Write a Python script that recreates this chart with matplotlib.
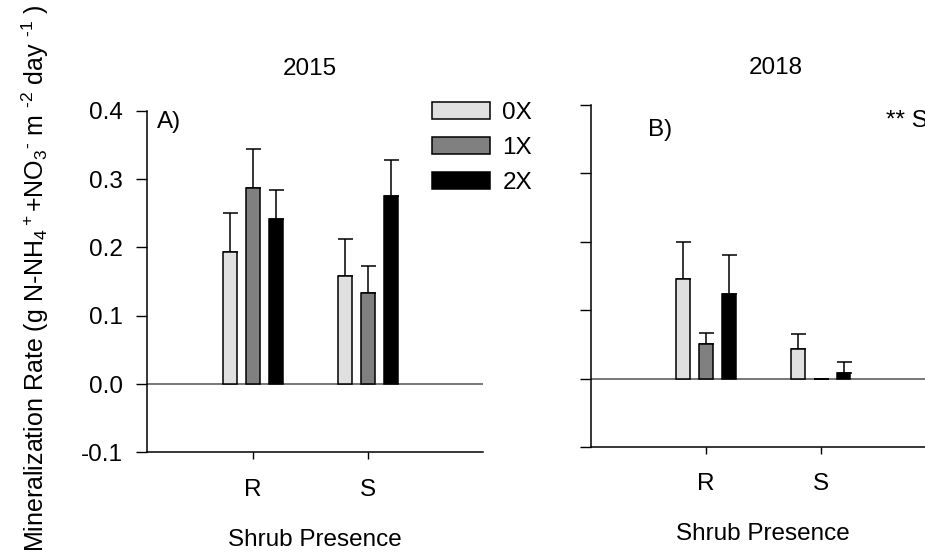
import numpy as np
import matplotlib.pyplot as plt

plt.rcParams["font.family"] = ["Liberation Sans", "DejaVu Sans"]
plt.rcParams["mathtext.fontset"] = "custom"
plt.rcParams["mathtext.rm"] = "Liberation Sans"
plt.rcParams["mathtext.it"] = "Liberation Sans:italic"
plt.rcParams["font.size"] = 17.5

shrub = ["R", "S"]
levels = ["0X", "1X", "2X"]

# mean and upper SE for each year, rows = level, cols = shrub presence
mean_2015 = [[0.194, 0.158], [0.287, 0.133], [0.242, 0.276]]
se_2015 = [[0.056, 0.055], [0.057, 0.040], [0.042, 0.052]]
mean_2018 = [[0.146, 0.043], [0.051, -0.001], [0.124, 0.008]]
se_2018 = [[0.054, 0.022], [0.016, 0.0], [0.056, 0.017]]

fills = ["#e0e0e0", "#808080", "#000000"]
width = 0.12
offset = 0.2

fig = plt.figure(figsize=(9.25, 5.55), dpi=100)
ax_a = fig.add_axes([147 / 925, 1 - 452.4 / 555, 336 / 925, 341.6 / 555])
ax_b = fig.add_axes([591 / 925, 1 - 447 / 555, 344.4 / 925, 342 / 555])


def draw_panel(ax, means, ses, xlim):
    x = np.arange(1, len(shrub) + 1)
    for i in range(len(levels)):
        ax.bar(x + (i - 1) * offset, means[i], width=width, color=fills[i],
               edgecolor="black", linewidth=1.1, label=levels[i], zorder=3)
        ax.errorbar(x + (i - 1) * offset, means[i],
                    yerr=[np.zeros(len(shrub)), ses[i]], fmt="none",
                    ecolor="black", elinewidth=1.1, capsize=5.4,
                    capthick=1.1, zorder=2)
    ax.axhline(0, color="#606060", linewidth=1.2, zorder=1)
    ax.set_xlim(*xlim)
    ax.set_ylim(-0.1, 0.4)
    ax.set_xticks(x)
    ax.set_xticklabels(shrub)
    ax.set_yticks(np.arange(-0.1, 0.41, 0.1))
    ax.spines["top"].set_visible(False)
    ax.spines["right"].set_visible(False)
    ax.spines["left"].set_linewidth(1.1)
    ax.spines["bottom"].set_linewidth(1.1)
    ax.tick_params(axis="x", direction="out", length=5, width=1, pad=14)
    ax.tick_params(axis="y", direction="out", length=7.6, width=1, pad=10)


draw_panel(ax_a, mean_2015, se_2015, (0.076, 3.0))
draw_panel(ax_b, mean_2018, se_2018, (0.0, 3.0))

ax_a.set_yticklabels([f"{v:.1f}" for v in np.arange(-0.1, 0.41, 0.1)])
ax_b.set_yticklabels([])

ax_a.set_xlabel("Shrub Presence", labelpad=20)
ax_b.set_xlabel("Shrub Presence", labelpad=20)

ax_a.text(0.163, 0.383, "A)", va="center", ha="left")
ax_b.text(0.50, 0.364, "B)", va="center", ha="left")
ax_b.text(2.57, 0.376, "** S", va="center", ha="left")

fig.text(310 / 925, 1 - 69 / 555, "2015", ha="center", va="center")
fig.text(776 / 925, 1 - 68 / 555, "2018", ha="center", va="center")

fig.text(35 / 925, 1 - 278 / 555,
         r"Mineralization Rate (g N-NH$_4$$^+$+NO$_3$$^{\text{-}}$ m $^{\text{-2}}$ day $^{\text{-1}}$ )",
         rotation=90, ha="center", va="center", fontsize=18)

ax_a.legend(loc="upper left", bbox_to_anchor=(432 / 925, 1 - 102 / 555),
            bbox_transform=fig.transFigure, frameon=False, borderpad=0,
            handlelength=2.4, handleheight=0.72, labelspacing=0.52,
            handletextpad=0.5, borderaxespad=0)

fig.savefig("out.png", dpi=100)
